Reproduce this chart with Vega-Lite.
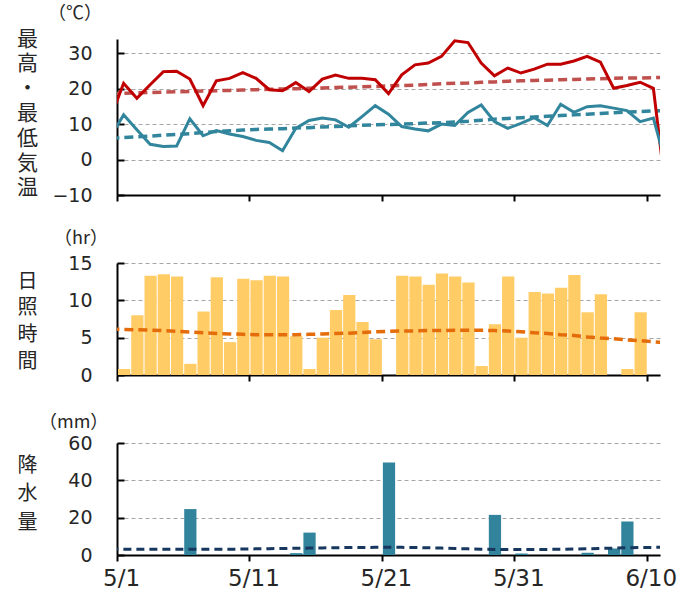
{
  "$schema": "https://vega.github.io/schema/vega-lite/v6.json",
  "background": "white",
  "padding": {"left": 16, "top": 5, "right": 5, "bottom": 5},
  "spacing": 68,
  "bounds": "flush",
  "config": {
    "view": {"stroke": null},
    "font": "DejaVu Sans",
    "title": {"font": "Noto Sans CJK JP", "fontSize": 18, "fontWeight": "normal", "color": "#262626", "anchor": "start", "frame": "group", "align": "left", "baseline": "bottom"},
    "axisY": {
      "domainColor": "#000000", "domainWidth": 2, "tickColor": "#000000", "tickWidth": 2, "tickSize": -7,
      "grid": true, "gridColor": "#a6a6a6", "gridDash": [4, 3], "gridWidth": 1, "labelOverlap": false,
      "labelFontSize": 19, "labelColor": "#262626", "labelPadding": 32, "labelFont": "DejaVu Sans",
      "titleFont": "Noto Sans CJK JP", "titleFontSize": 21, "titleFontWeight": "normal", "titleColor": "#262626",
      "titleAngle": 0, "titleAlign": "center", "titleBaseline": "alphabetic", "titleX": -90
    },
    "axisX": {
      "domainColor": "#000000", "domainWidth": 2, "tickColor": "#000000", "tickWidth": 2, "tickSize": 6,
      "grid": false, "labelFontSize": 23, "labelColor": "#262626", "labelPadding": 6, "labelFlush": false, "labelFont": "DejaVu Sans", "labelOffset": 4, "labelOverlap": false
    }
  },
  "datasets": {
    "w": [
      {"date": "2024-04-30", "tmax": 11.7, "tmin": 6.4, "tmaxN": 18.6, "tminN": 6.0, "sun": null, "sunN": 6.15, "rain": null, "rainN": 3.1},
      {"date": "2024-05-01", "tmax": 21.5, "tmin": 12.6, "tmaxN": 18.7, "tminN": 6.2, "sun": 0.8, "sunN": 6.1, "rain": 0, "rainN": 3.1},
      {"date": "2024-05-02", "tmax": 17.3, "tmin": 8.4, "tmaxN": 18.8, "tminN": 6.4, "sun": 8.0, "sunN": 6.05, "rain": 0, "rainN": 3.1},
      {"date": "2024-05-03", "tmax": 21.1, "tmin": 4.3, "tmaxN": 18.9, "tminN": 6.6, "sun": 13.3, "sunN": 6.0, "rain": 0, "rainN": 3.1},
      {"date": "2024-05-04", "tmax": 24.8, "tmin": 3.7, "tmaxN": 19.0, "tminN": 6.9, "sun": 13.5, "sunN": 5.95, "rain": 0, "rainN": 3.1},
      {"date": "2024-05-05", "tmax": 24.9, "tmin": 3.8, "tmaxN": 19.1, "tminN": 7.1, "sun": 13.2, "sunN": 5.85, "rain": 0, "rainN": 3.1},
      {"date": "2024-05-06", "tmax": 22.7, "tmin": 11.5, "tmaxN": 19.2, "tminN": 7.3, "sun": 1.5, "sunN": 5.75, "rain": 24.6, "rainN": 3.1},
      {"date": "2024-05-07", "tmax": 15.2, "tmin": 6.7, "tmaxN": 19.3, "tminN": 7.6, "sun": 8.5, "sunN": 5.65, "rain": 0, "rainN": 3.1},
      {"date": "2024-05-08", "tmax": 22.2, "tmin": 8.2, "tmaxN": 19.4, "tminN": 7.9, "sun": 13.1, "sunN": 5.55, "rain": 0, "rainN": 3.1},
      {"date": "2024-05-09", "tmax": 22.9, "tmin": 7.2, "tmaxN": 19.5, "tminN": 8.1, "sun": 4.4, "sunN": 5.5, "rain": 0, "rainN": 3.1},
      {"date": "2024-05-10", "tmax": 24.5, "tmin": 6.5, "tmaxN": 19.6, "tminN": 8.3, "sun": 12.9, "sunN": 5.45, "rain": 0, "rainN": 3.2},
      {"date": "2024-05-11", "tmax": 22.9, "tmin": 5.4, "tmaxN": 19.7, "tminN": 8.5, "sun": 12.7, "sunN": 5.4, "rain": 0, "rainN": 3.3},
      {"date": "2024-05-12", "tmax": 19.7, "tmin": 4.8, "tmaxN": 19.8, "tminN": 8.6, "sun": 13.3, "sunN": 5.4, "rain": 0, "rainN": 3.4},
      {"date": "2024-05-13", "tmax": 19.4, "tmin": 2.5, "tmaxN": 19.9, "tminN": 8.7, "sun": 13.2, "sunN": 5.4, "rain": 0, "rainN": 3.5},
      {"date": "2024-05-14", "tmax": 21.7, "tmin": 8.8, "tmaxN": 20.0, "tminN": 8.9, "sun": 5.2, "sunN": 5.4, "rain": 1.0, "rainN": 3.6},
      {"date": "2024-05-15", "tmax": 19.2, "tmin": 11.0, "tmaxN": 20.1, "tminN": 9.0, "sun": 0.8, "sunN": 5.45, "rain": 12.0, "rainN": 3.7},
      {"date": "2024-05-16", "tmax": 22.7, "tmin": 11.7, "tmaxN": 20.2, "tminN": 9.2, "sun": 5.0, "sunN": 5.5, "rain": 0, "rainN": 3.8},
      {"date": "2024-05-17", "tmax": 23.8, "tmin": 11.2, "tmaxN": 20.3, "tminN": 9.3, "sun": 8.7, "sunN": 5.55, "rain": 0, "rainN": 3.9},
      {"date": "2024-05-18", "tmax": 22.9, "tmin": 9.1, "tmaxN": 20.4, "tminN": 9.5, "sun": 10.7, "sunN": 5.6, "rain": 0, "rainN": 4.0},
      {"date": "2024-05-19", "tmax": 22.9, "tmin": 12.1, "tmaxN": 20.5, "tminN": 9.7, "sun": 7.1, "sunN": 5.7, "rain": 0, "rainN": 4.0},
      {"date": "2024-05-20", "tmax": 22.5, "tmin": 15.2, "tmaxN": 20.6, "tminN": 9.8, "sun": 4.8, "sunN": 5.8, "rain": 0, "rainN": 4.1},
      {"date": "2024-05-21", "tmax": 18.6, "tmin": 12.8, "tmaxN": 20.8, "tminN": 9.9, "sun": 0, "sunN": 5.85, "rain": 49.5, "rainN": 4.1},
      {"date": "2024-05-22", "tmax": 23.9, "tmin": 9.3, "tmaxN": 20.9, "tminN": 10.0, "sun": 13.3, "sunN": 5.9, "rain": 0, "rainN": 4.1},
      {"date": "2024-05-23", "tmax": 26.7, "tmin": 8.6, "tmaxN": 21.0, "tminN": 10.1, "sun": 13.2, "sunN": 5.9, "rain": 0, "rainN": 4.0},
      {"date": "2024-05-24", "tmax": 27.2, "tmin": 8.1, "tmaxN": 21.2, "tminN": 10.3, "sun": 12.1, "sunN": 5.95, "rain": 0, "rainN": 3.9},
      {"date": "2024-05-25", "tmax": 29.1, "tmin": 10.0, "tmaxN": 21.4, "tminN": 10.4, "sun": 13.6, "sunN": 5.95, "rain": 0, "rainN": 3.7},
      {"date": "2024-05-26", "tmax": 33.5, "tmin": 9.6, "tmaxN": 21.5, "tminN": 10.6, "sun": 13.2, "sunN": 6.0, "rain": 0, "rainN": 3.5},
      {"date": "2024-05-27", "tmax": 33.0, "tmin": 13.3, "tmaxN": 21.6, "tminN": 10.8, "sun": 12.4, "sunN": 6.0, "rain": 0, "rainN": 3.3},
      {"date": "2024-05-28", "tmax": 27.2, "tmin": 15.4, "tmaxN": 21.8, "tminN": 11.1, "sun": 1.2, "sunN": 6.0, "rain": 0, "rainN": 3.1},
      {"date": "2024-05-29", "tmax": 23.6, "tmin": 10.7, "tmaxN": 21.9, "tminN": 11.4, "sun": 6.8, "sunN": 5.95, "rain": 21.5, "rainN": 3.0},
      {"date": "2024-05-30", "tmax": 25.8, "tmin": 8.8, "tmaxN": 22.1, "tminN": 11.6, "sun": 13.2, "sunN": 5.9, "rain": 0, "rainN": 2.9},
      {"date": "2024-05-31", "tmax": 24.4, "tmin": 10.2, "tmaxN": 22.2, "tminN": 11.8, "sun": 5.0, "sunN": 5.8, "rain": 0.8, "rainN": 2.9},
      {"date": "2024-06-01", "tmax": 25.5, "tmin": 11.8, "tmaxN": 22.3, "tminN": 12.0, "sun": 11.1, "sunN": 5.65, "rain": 0, "rainN": 2.9},
      {"date": "2024-06-02", "tmax": 26.9, "tmin": 9.6, "tmaxN": 22.4, "tminN": 12.2, "sun": 10.9, "sunN": 5.55, "rain": 0, "rainN": 3.0},
      {"date": "2024-06-03", "tmax": 26.9, "tmin": 15.6, "tmaxN": 22.5, "tminN": 12.4, "sun": 11.7, "sunN": 5.4, "rain": 0, "rainN": 3.1},
      {"date": "2024-06-04", "tmax": 27.8, "tmin": 13.3, "tmaxN": 22.6, "tminN": 12.6, "sun": 13.4, "sunN": 5.3, "rain": 0, "rainN": 3.2},
      {"date": "2024-06-05", "tmax": 29.1, "tmin": 14.9, "tmaxN": 22.7, "tminN": 12.8, "sun": 8.4, "sunN": 5.1, "rain": 1.2, "rainN": 3.3},
      {"date": "2024-06-06", "tmax": 27.5, "tmin": 15.2, "tmaxN": 22.8, "tminN": 13.0, "sun": 10.8, "sunN": 4.95, "rain": 0, "rainN": 3.5},
      {"date": "2024-06-07", "tmax": 20.1, "tmin": 14.5, "tmaxN": 22.9, "tminN": 13.2, "sun": 0, "sunN": 4.85, "rain": 3.5, "rainN": 3.7},
      {"date": "2024-06-08", "tmax": 20.9, "tmin": 13.8, "tmaxN": 23.0, "tminN": 13.4, "sun": 0.8, "sunN": 4.7, "rain": 18.0, "rainN": 3.9},
      {"date": "2024-06-09", "tmax": 21.8, "tmin": 10.7, "tmaxN": 23.0, "tminN": 13.5, "sun": 8.4, "sunN": 4.6, "rain": 0, "rainN": 4.0},
      {"date": "2024-06-10", "tmax": 20.1, "tmin": 11.7, "tmaxN": 23.1, "tminN": 13.7, "sun": 0, "sunN": 4.45, "rain": 0, "rainN": 4.1},
      {"date": "2024-06-11", "tmax": -11.0, "tmin": -2.0, "tmaxN": 23.2, "tminN": 13.8, "sun": null, "sunN": 4.35, "rain": null, "rainN": 4.2}
    ]
  },
  "vconcat": [
    {
      "width": 543,
      "height": 156,
      "data": {"name": "w"},
      "title": {"text": "（℃）", "dx": -69, "offset": 5},
      "encoding": {
        "x": {
          "field": "date", "type": "temporal", "timeUnit": "utcyearmonthdate", "bandPosition": 0.5, "title": null,
          "scale": {"domain": [{"year": 2024, "month": 5, "date": 1, "utc": true}, {"year": 2024, "month": 6, "date": 11, "utc": true}]},
          "axis": {"labels": false, "values": [{"year": 2024, "month": 5, "date": 1, "utc": true}, {"year": 2024, "month": 5, "date": 11, "utc": true}, {"year": 2024, "month": 5, "date": 21, "utc": true}, {"year": 2024, "month": 5, "date": 31, "utc": true}, {"year": 2024, "month": 6, "date": 10, "utc": true}]}
        },
        "y": {"type": "quantitative", "scale": {"domain": [-10, 34], "nice": false},
          "axis": {"values": [-10, 0, 10, 20, 30], "title": ["最", "高", "・", "最", "低", "気", "温"], "titleY": 6, "titleLineHeight": 24.8}}
      },
      "layer": [
        {
          "mark": {"type": "line", "color": "#c0504d", "strokeWidth": 3.5, "strokeDash": [9, 5], "clip": true},
          "encoding": {"y": {"field": "tmaxN"}}
        },
        {
          "mark": {"type": "line", "color": "#31859c", "strokeWidth": 3.5, "strokeDash": [9, 5], "clip": true},
          "encoding": {"y": {"field": "tminN"}}
        },
        {
          "mark": {"type": "line", "color": "#c00000", "strokeWidth": 3, "clip": true},
          "encoding": {"y": {"field": "tmax"}}
        },
        {
          "mark": {"type": "line", "color": "#31859c", "strokeWidth": 3, "clip": true},
          "encoding": {"y": {"field": "tmin"}}
        }
      ]
    },
    {
      "width": 543,
      "height": 112,
      "data": {"name": "w"},
      "title": {"text": "（hr）", "dx": -63, "offset": 6.5},
      "encoding": {
        "x": {
          "field": "date", "type": "temporal", "timeUnit": "utcyearmonthdate", "title": null,
          "scale": {"domain": [{"year": 2024, "month": 5, "date": 1, "utc": true}, {"year": 2024, "month": 6, "date": 11, "utc": true}]},
          "axis": {"labels": false, "values": [{"year": 2024, "month": 5, "date": 1, "utc": true}, {"year": 2024, "month": 5, "date": 11, "utc": true}, {"year": 2024, "month": 5, "date": 21, "utc": true}, {"year": 2024, "month": 5, "date": 31, "utc": true}, {"year": 2024, "month": 6, "date": 10, "utc": true}]}
        },
        "y": {"type": "quantitative", "scale": {"domain": [0, 15], "nice": false},
          "axis": {"values": [0, 5, 10, 15], "title": ["日", "照", "時", "間"], "titleY": 24, "titleLineHeight": 26.7, "titleFontSize": 20}}
      },
      "layer": [
        {
          "mark": {"type": "bar", "color": "#ffcc66", "clip": true},
          "encoding": {"y": {"field": "sun"}}
        },
        {
          "mark": {"type": "line", "color": "#e46c0a", "strokeWidth": 3.5, "strokeDash": [9, 5], "clip": true},
          "encoding": {
            "x": {"field": "date", "type": "temporal", "timeUnit": "utcyearmonthdate", "bandPosition": 0.5},
            "y": {"field": "sunN"}
          }
        }
      ]
    },
    {
      "width": 543,
      "height": 112,
      "data": {"name": "w"},
      "title": {"text": "（mm）", "dx": -78, "offset": 2.5},
      "encoding": {
        "x": {
          "field": "date", "type": "temporal", "timeUnit": "utcyearmonthdate", "title": null,
          "scale": {"domain": [{"year": 2024, "month": 5, "date": 1, "utc": true}, {"year": 2024, "month": 6, "date": 11, "utc": true}]},
          "axis": {"format": "%-m/%-d", "values": [{"year": 2024, "month": 5, "date": 1, "utc": true}, {"year": 2024, "month": 5, "date": 11, "utc": true}, {"year": 2024, "month": 5, "date": 21, "utc": true}, {"year": 2024, "month": 5, "date": 31, "utc": true}, {"year": 2024, "month": 6, "date": 10, "utc": true}]}
        },
        "y": {"type": "quantitative", "scale": {"domain": [0, 60], "nice": false},
          "axis": {"values": [0, 20, 40, 60], "title": ["降", "水", "量"], "titleY": 28.7, "titleLineHeight": 28.3, "titleFontSize": 20}}
      },
      "layer": [
        {
          "mark": {"type": "bar", "color": "#31849b", "clip": true},
          "encoding": {"y": {"field": "rain"}}
        },
        {
          "mark": {"type": "line", "color": "#17375e", "strokeWidth": 3, "strokeDash": [8, 5], "clip": true},
          "encoding": {
            "x": {"field": "date", "type": "temporal", "timeUnit": "utcyearmonthdate", "bandPosition": 0.5},
            "y": {"field": "rainN"}
          }
        }
      ]
    }
  ]
}
